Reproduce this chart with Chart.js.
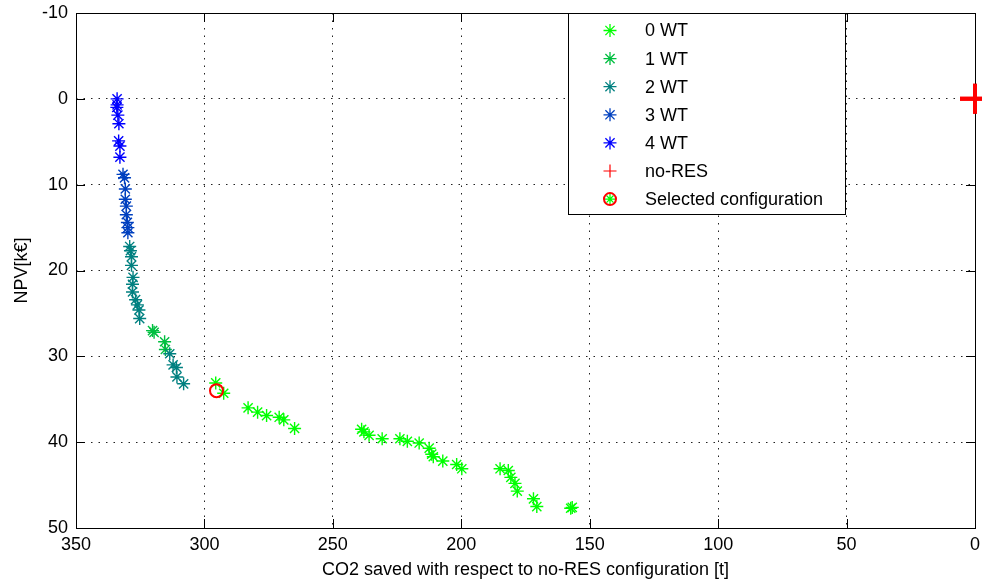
<!DOCTYPE html>
<html>
<head>
<meta charset="utf-8">
<script src="https://cdn.jsdelivr.net/npm/chart.js@4.4.1/dist/chart.umd.min.js"></script>
<style>
  html, body { margin: 0; padding: 0; background: #fff; }
  canvas { display: block; }
</style>
</head>
<body>
<canvas id="npvChart" width="982" height="585"></canvas>
<script>
// --- data (x = CO2 saved [t], y = NPV [k€]) ---
const wt0X = [295.6, 292.5, 283.0, 279.3, 275.8, 270.9, 269.1, 264.9, 238.8, 237.9, 235.9, 230.8, 223.9, 221.0, 216.4, 212.5, 211.5, 210.9, 207.2, 201.8, 199.8, 184.9, 181.7, 180.7, 179.1, 178.2, 171.9, 170.6, 157.4, 156.8];
const wt0Y = [33.1, 34.3, 36.0, 36.5, 36.9, 37.1, 37.4, 38.4, 38.5, 38.8, 39.2, 39.6, 39.6, 39.9, 40.1, 40.7, 41.4, 41.7, 42.2, 42.6, 43.1, 43.1, 43.3, 44.1, 44.8, 45.7, 46.6, 47.5, 47.7, 47.6];

const wt1X = [320.2, 319.6, 315.5, 315.2];
const wt1Y = [27.0, 27.2, 28.3, 29.2];

const wt2X = [329.1, 328.8, 328.4, 328.4, 327.8, 328.0, 328.0, 326.8, 326.1, 325.5, 325.2, 313.5, 312.2, 310.9, 310.7, 308.1];
const wt2Y = [17.2, 17.7, 18.4, 19.4, 20.8, 21.6, 22.5, 23.4, 24.0, 24.6, 25.6, 29.7, 31.0, 31.3, 32.4, 33.2];

const wt3X = [331.7, 331.1, 330.8, 330.8, 330.4, 330.4, 330.0, 329.8, 329.8];
const wt3Y = [8.8, 9.2, 10.5, 11.7, 12.5, 13.5, 14.4, 15.0, 15.6];

const wt4X = [334.0, 334.0, 334.1, 333.7, 333.3, 333.4, 332.9, 332.9];
const wt4Y = [0.0, 0.7, 1.0, 1.9, 2.9, 4.9, 5.5, 6.8];

const noResX = [0];
const noResY = [0];

const selectedX = [295.3];
const selectedY = [34.0];

const xTicks = [0, 50, 100, 150, 200, 250, 300, 350];
const yTicks = [-10, 0, 10, 20, 30, 40, 50];

const toPoints = (xs, ys) => xs.map((x, i) => ({ x: x, y: ys[i] }));

const FONT = { family: '"Liberation Sans", Arial, sans-serif', size: 18 };

// --- helpers to draw MATLAB-like markers in the legend ---
function drawStar(ctx, x, y, r, color) {
    const d = r * Math.SQRT1_2;
    ctx.save();
    ctx.strokeStyle = color;
    ctx.lineWidth = 1.3;
    ctx.beginPath();
    ctx.moveTo(x - r, y); ctx.lineTo(x + r, y);
    ctx.moveTo(x, y - r); ctx.lineTo(x, y + r);
    ctx.moveTo(x - d, y - d); ctx.lineTo(x + d, y + d);
    ctx.moveTo(x - d, y + d); ctx.lineTo(x + d, y - d);
    ctx.stroke();
    ctx.restore();
}
function drawPlus(ctx, x, y, r, color, w) {
    ctx.save();
    ctx.strokeStyle = color;
    ctx.lineWidth = w;
    ctx.beginPath();
    ctx.moveTo(x - r, y); ctx.lineTo(x + r, y);
    ctx.moveTo(x, y - r); ctx.lineTo(x, y + r);
    ctx.stroke();
    ctx.restore();
}

// box, inward ticks and legend like the MATLAB figure
const matlabFrame = {
    id: 'matlabFrame',
    afterDatasetsDraw(chart) {
        const { ctx, chartArea: a, scales } = chart;
        const tl = 9;
        ctx.save();
        ctx.strokeStyle = '#000';
        ctx.lineWidth = 1;
        ctx.beginPath();
        xTicks.forEach(v => {
            const px = Math.round(scales.x.getPixelForValue(v)) + 0.5;
            ctx.moveTo(px, a.bottom); ctx.lineTo(px, a.bottom - tl);
            ctx.moveTo(px, a.top); ctx.lineTo(px, a.top + tl);
        });
        yTicks.forEach(v => {
            const py = Math.round(scales.y.getPixelForValue(v)) + 0.5;
            ctx.moveTo(a.left, py); ctx.lineTo(a.left + tl, py);
            ctx.moveTo(a.right, py); ctx.lineTo(a.right - tl, py);
        });
        ctx.stroke();
        ctx.strokeRect(Math.round(a.left) + 0.5, Math.round(a.top) + 0.5,
                       Math.round(a.right - a.left), Math.round(a.bottom - a.top));
        ctx.restore();

        // the no-RES cross sits on the right border, redraw it above the frame
        const nr = chart.getDatasetMeta(5).data[0];
        if (nr) drawPlus(ctx, nr.x, nr.y, 15, '#ff0000', 4);

        // legend
        const lx = 568.5, ly = 13.5, lw = 277, lh = 201;
        ctx.save();
        ctx.fillStyle = '#fff';
        ctx.fillRect(lx, ly, lw, lh);
        ctx.strokeStyle = '#000';
        ctx.lineWidth = 1;
        ctx.strokeRect(lx, ly, lw, lh);
        ctx.font = FONT.size + 'px ' + FONT.family;
        ctx.fillStyle = '#000';
        ctx.textBaseline = 'middle';
        ctx.textAlign = 'left';
        chart.data.datasets.forEach((ds, i) => {
            const y = 30.5 + i * 28.1;
            const mx = 610;
            if (ds.legendKind === 'star') {
                drawStar(ctx, mx, y, 6.5, ds.borderColor);
            } else if (ds.legendKind === 'plus') {
                drawPlus(ctx, mx, y, 6.5, ds.borderColor, 1.2);
            } else {
                drawStar(ctx, mx, y, 5, '#00ff00');
                ctx.save();
                ctx.strokeStyle = '#ff0000';
                ctx.lineWidth = 2;
                ctx.beginPath();
                ctx.arc(mx, y, 6, 0, Math.PI * 2);
                ctx.stroke();
                ctx.restore();
            }
            ctx.fillText(ds.label, 645, y + 1);
        });
        ctx.restore();
    }
};

const starSet = (label, xs, ys, color, order) => ({
    label: label,
    data: toPoints(xs, ys),
    borderColor: color,
    backgroundColor: color,
    pointStyle: 'star',
    pointRadius: 6.5,
    pointBorderWidth: 1.4,
    legendKind: 'star',
    order: order
});

new Chart(document.getElementById('npvChart'), {
    type: 'scatter',
    data: {
        datasets: [
            starSet('0 WT', wt0X, wt0Y, '#00ff00', 6),
            starSet('1 WT', wt1X, wt1Y, 'rgb(0,191,64)', 5),
            starSet('2 WT', wt2X, wt2Y, 'rgb(0,128,128)', 4),
            starSet('3 WT', wt3X, wt3Y, 'rgb(0,64,191)', 3),
            starSet('4 WT', wt4X, wt4Y, '#0000ff', 2),
            {
                label: 'no-RES',
                data: toPoints(noResX, noResY),
                borderColor: '#ff0000',
                backgroundColor: '#ff0000',
                pointStyle: 'cross',
                pointRadius: 15,
                pointBorderWidth: 4,
                legendKind: 'plus',
                clip: false,
                order: 1
            },
            {
                label: 'Selected configuration',
                data: toPoints(selectedX, selectedY),
                borderColor: '#ff0000',
                backgroundColor: 'rgba(0,0,0,0)',
                pointStyle: 'circle',
                pointRadius: 6.5,
                pointBorderWidth: 2,
                legendKind: 'selected',
                order: 0
            }
        ]
    },
    options: {
        responsive: false,
        animation: false,
        devicePixelRatio: 1,
        layout: { autoPadding: false, padding: { top: 13, right: 7, left: 0, bottom: 0 } },
        plugins: {
            legend: { display: false },
            tooltip: { enabled: false }
        },
        scales: {
            x: {
                type: 'linear',
                reverse: true,
                min: 0,
                max: 350,
                afterBuildTicks: s => { s.ticks = xTicks.map(v => ({ value: v })); },
                afterFit: s => { s.height = 57; s.paddingLeft = 0; s.paddingRight = 0; },
                ticks: { color: '#000', font: FONT, padding: 6, maxRotation: 0 },
                grid: { color: '#222', lineWidth: 1, drawTicks: false },
                border: { display: false, dash: [1.5, 6] },
                title: {
                    display: true,
                    text: 'CO2 saved with respect to no-RES configuration [t]',
                    color: '#000',
                    font: FONT,
                    padding: { top: 0, bottom: 4 }
                }
            },
            y: {
                type: 'linear',
                reverse: true,
                min: -10,
                max: 50,
                afterBuildTicks: s => { s.ticks = yTicks.map(v => ({ value: v })); },
                afterFit: s => { s.width = 76; s.paddingTop = 0; s.paddingBottom = 0; },
                ticks: { color: '#000', font: FONT, padding: 8 },
                grid: { color: '#222', lineWidth: 1, drawTicks: false },
                border: { display: false, dash: [1.5, 6] },
                title: {
                    display: true,
                    text: 'NPV[k€]',
                    color: '#000',
                    font: FONT,
                    padding: { top: 11, bottom: 0 }
                }
            }
        }
    },
    plugins: [matlabFrame]
});
</script>
</body>
</html>
